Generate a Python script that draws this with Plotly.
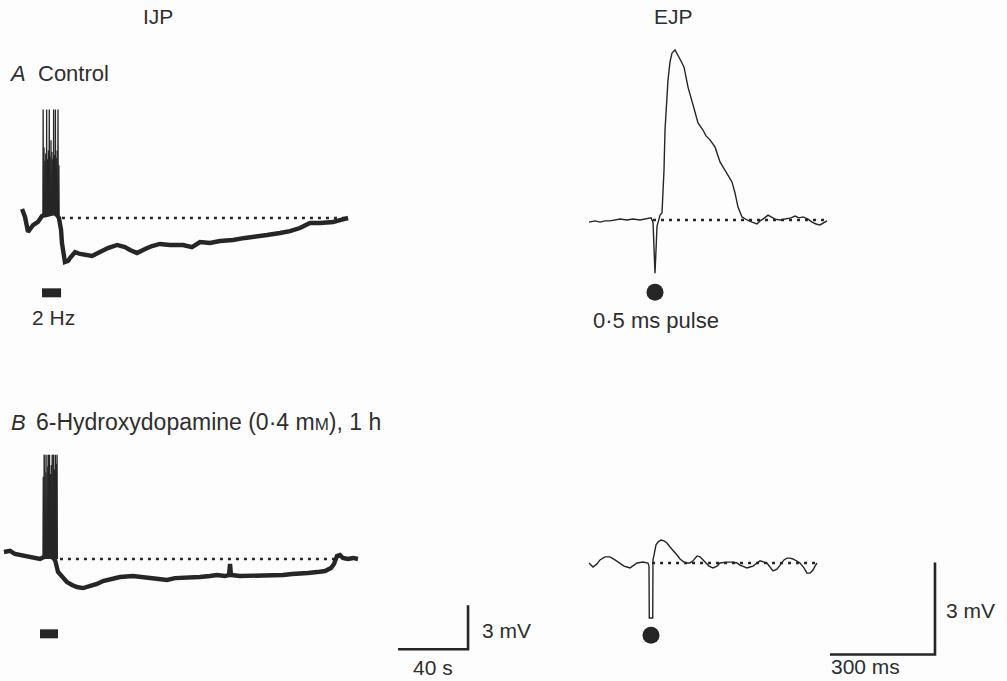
import plotly.graph_objects as go

W, H = 1007, 681
INK = "#262626"
TXT = "#2e2e2e"
FONT = "Liberation Sans, Arial, sans-serif"

# ---------------- IJP, A: control (time in s from stimulus onset, mV from rest)
ijp_a_t = [-11.4, -9.7, -8.0, -6.3, -5.1, -2.3, 0.0, 2.3, 4.6, 6.9, 8.6, 9.7, 10.9, 11.4, 13.1,
           14.9, 16.0, 18.9, 21.7, 24.6, 28.6, 33.1, 37.7, 42.9, 47.4, 50.3, 54.3, 58.9, 62.9,
           67.4, 73.1, 80.6, 85.7, 90.3, 96.0, 101.7, 109.1, 116.0, 121.7, 128.6, 136.0, 141.7,
           147.4, 153.1, 158.9, 166.3, 170.3, 174.9]
ijp_a_mv = [0.61, 0.07, -0.95, -0.61, -0.48, -0.27, 0.14, 0.20, 0.27, 0.34, 0.20, 0.0, -0.82, -1.70,
            -3.00, -2.93, -2.73, -2.32, -2.45, -2.52, -2.59, -2.32, -2.05, -1.84, -1.98, -2.18, -2.39,
            -2.11, -1.91, -1.77, -1.84, -1.84, -1.98, -1.64, -1.70, -1.57, -1.50, -1.36, -1.30, -1.16,
            -1.02, -0.89, -0.68, -0.34, -0.34, -0.27, -0.14, 0.0]
ijp_a_spike_t = [0.5, 1.0, 1.5, 2.0, 2.5, 3.0, 3.5, 4.0, 4.5, 5.0, 5.5, 6.0, 6.5, 7.0, 7.5, 8.0, 8.5, 9.0, 9.5]
ijp_a_spike_mv = [7.4, 4.8, 3.9, 4.4, 7.4, 4.0, 4.6, 7.4, 4.2, 5.3, 4.5, 4.0, 7.4, 4.3, 7.4, 4.1, 4.6, 7.4, 3.6]
ijp_a_spike_base = 0.2
ijp_a_stim = [0.0, 10.9]

# ---------------- IJP, B: 6-hydroxydopamine
ijp_b_t = [-20.6, -17.1, -14.3, -11.4, -8.6, -5.7, -2.9, 0.0, 2.3, 4.6, 6.9, 8.6, 10.3, 12.6, 15.4,
           18.3, 21.1, 24.6, 28.6, 32.6, 36.0, 40.0, 45.7, 53.1, 58.3, 62.9, 67.4, 72.6, 77.1, 81.7,
           86.9, 91.4, 97.1, 101.1, 105.7, 108.0, 108.6, 109.1, 114.3, 120.0, 124.6, 129.7, 134.3,
           138.9, 144.0, 148.6, 153.1, 158.3, 162.9, 166.3, 168.0, 169.7, 171.4, 173.1, 176.0,
           178.9, 181.7]
ijp_b_mv = [0.48, 0.55, 0.34, 0.27, 0.27, 0.14, 0.07, 0.0, 0.14, 0.20, 0.14, -0.07, -0.89, -1.23,
            -1.57, -1.77, -1.91, -1.98, -1.84, -1.70, -1.50, -1.36, -1.23, -1.16, -1.23, -1.30, -1.36,
            -1.43, -1.30, -1.30, -1.23, -1.23, -1.16, -1.09, -1.16, -1.09, -0.34, -1.09, -1.16, -1.16,
            -1.09, -1.09, -1.16, -1.09, -1.02, -0.95, -0.95, -0.89, -0.82, -0.61, -0.34, 0.20, 0.27,
            0.07, 0.0, 0.07, 0.0]
ijp_b_spike_t = [1.7, 2.2, 2.7, 3.2, 3.8, 4.3, 4.8, 5.3, 5.8, 6.3, 6.8, 7.3, 7.7, 8.2, 8.7, 9.2, 9.6]
ijp_b_spike_mv = [5.6, 7.1, 7.1, 5.9, 7.1, 6.3, 7.1, 7.1, 5.8, 6.4, 7.1, 7.1, 7.1, 6.1, 7.1, 6.5, 7.1]
ijp_b_spike_base = 0.0
ijp_b_stim = [0.0, 10.3]

# ---------------- EJP, A: control (time in ms from pulse, mV from rest)
ejp_a_t = [-188.6, -171.4, -157.1, -142.9, -128.6, -114.3, -100.0, -80.0, -62.9, -42.9, -22.9, -11.4,
           -5.7, -2.9, 0.0, 2.9, 5.7, 11.4, 14.3, 20.0, 25.7, 28.6, 37.1, 42.9, 48.6, 57.1, 65.7,
           74.3, 82.9, 94.3, 108.6, 122.9, 137.1, 145.7, 157.1, 171.4, 185.7, 197.1, 205.7, 220.0,
           228.6, 237.1, 248.6, 262.9, 277.1, 291.4, 300.0, 308.6, 322.9, 334.3, 342.9, 357.1,
           377.1, 388.6, 400.0, 411.4, 422.9, 437.1, 448.6, 460.0, 471.4, 482.9, 491.4]
ejp_a_mv = [-0.07, -0.03, -0.07, -0.03, -0.03, 0.0, 0.03, 0.0, 0.03, 0.0, 0.03, 0.07, -0.07, -0.81,
            -1.73, -0.98, -0.20, 0.03, 0.16, 0.23, 1.63, 2.93, 4.56, 5.15, 5.44, 5.54, 5.37, 5.18,
            4.98, 4.33, 3.75, 3.16, 2.93, 2.74, 2.61, 2.38, 1.89, 1.66, 1.53, 1.24, 0.88, 0.42, 0.10,
            0.0, -0.07, -0.13, -0.03, 0.03, 0.16, 0.07, 0.03, 0.0, 0.03, 0.07, 0.13, 0.07, 0.10,
            0.03, -0.07, -0.13, -0.16, -0.10, -0.03]

# ---------------- EJP, B: 6-hydroxydopamine
ejp_b_t = [-177.1, -171.4, -165.7, -154.3, -145.7, -131.4, -117.1, -102.9, -88.6, -77.1, -68.6, -60.0,
           -48.6, -40.0, -22.9, -8.6, -5.7, -4.9, 4.9, 5.7, 8.6, 14.3, 20.0, 28.6, 37.1, 45.7, 54.3,
           62.9, 74.3, 82.9, 94.3, 102.9, 111.4, 120.0, 125.7, 131.4, 140.0, 148.6, 154.3, 165.7,
           177.1, 188.6, 197.1, 217.1, 234.3, 245.7, 254.3, 265.7, 274.3, 282.9, 291.4, 302.9,
           311.4, 322.9, 331.4, 340.0, 348.6, 360.0, 368.6, 380.0, 388.6, 397.1, 405.7, 417.1,
           425.7, 437.1, 445.7, 454.3, 462.9, 468.6, 474.3]
ejp_b_mv = [0.0, -0.07, -0.13, -0.03, 0.10, 0.20, 0.20, 0.10, 0.0, -0.10, -0.13, -0.16, -0.07, 0.0,
            0.03, 0.0, -0.10, -1.79, -1.79, 0.10, 0.26, 0.59, 0.68, 0.75, 0.72, 0.65, 0.52, 0.42,
            0.26, 0.13, 0.03, 0.0, 0.0, 0.07, 0.16, 0.23, 0.20, 0.10, 0.0, -0.10, -0.16, -0.10, 0.0,
            0.03, 0.03, 0.0, -0.07, -0.13, -0.16, -0.13, -0.10, 0.0, 0.07, 0.03, 0.0, -0.13, -0.26,
            -0.20, -0.07, 0.10, 0.16, 0.16, 0.13, 0.07, 0.0, -0.16, -0.33, -0.33, -0.23, -0.10, 0.0]

# resting-potential reference (dotted) lines
ijp_a_rest_t = [11.4, 176.0]
ijp_b_rest_t = [11.4, 170.0]
ejp_a_rest_t = [-5.7, 491.0]
ejp_b_rest_t = [3.0, 477.0]
pulse_marker_mv = -2.35

# calibration bars
ijp_cal_s, ijp_cal_mv = 40, 3
ejp_cal_ms, ejp_cal_mv = 300, 3

# ------------------------------------------------------------------ layout helpers
def axes_for(box, origin, scale):
    px0, px1, py0, py1 = box
    ox, oy = origin
    sx, sy = scale
    xa = dict(domain=[px0 / W, px1 / W], range=[(px0 - ox) / sx, (px1 - ox) / sx], visible=False)
    ya = dict(domain=[1 - py1 / H, 1 - py0 / H], range=[(oy - py1) / sy, (oy - py0) / sy], visible=False)
    return xa, ya

IJP_SCALE = (1.75, 14.67)
EJP_SCALE = (0.35, 30.7)
xa1, ya1 = axes_for((0, 380, 90, 310), (42, 218), IJP_SCALE)
xa2, ya2 = axes_for((0, 560, 440, 681), (40, 559), IJP_SCALE)
xa3, ya3 = axes_for((560, 860, 30, 310), (655, 220), EJP_SCALE)
xa4, ya4 = axes_for((560, 1007, 500, 681), (651, 563), EJP_SCALE)

fig = go.Figure()

def line(x, y, ax, width, dash=None, color=INK):
    fig.add_trace(go.Scatter(x=x, y=y, mode="lines", xaxis="x" + ax, yaxis="y" + ax,
                             line=dict(color=color, width=width, dash=dash),
                             hoverinfo="skip", showlegend=False, connectgaps=False))

def spikes(ts, peaks, base):
    xs, ys = [], []
    for t, p in zip(ts, peaks):
        xs += [t, t + 0.15, t + 0.3, None]
        ys += [base, p, base, None]
    return xs, ys

DOT = "3px,5px"
STIM_Y = -5.1

# IJP A
line(ijp_a_t, ijp_a_mv, "", 4.4)
sx_, sy_ = spikes(ijp_a_spike_t, ijp_a_spike_mv, ijp_a_spike_base)
line(sx_, sy_, "", 1.3)
line(ijp_a_rest_t, [0, 0], "", 2.6, DOT)
line(ijp_a_stim, [STIM_Y, STIM_Y], "", 9)

# IJP B
line(ijp_b_t, ijp_b_mv, "2", 4.4)
sx_, sy_ = spikes(ijp_b_spike_t, ijp_b_spike_mv, ijp_b_spike_base)
line(sx_, sy_, "2", 1.3)
line(ijp_b_rest_t, [0, 0], "2", 2.6, DOT)
line(ijp_b_stim, [STIM_Y, STIM_Y], "2", 9)
# IJP calibration
cx, cy = 244.6, -6.15
line([cx - ijp_cal_s, cx, cx], [cy, cy, cy + ijp_cal_mv], "2", 2.6)

# EJP A
line(ejp_a_t, ejp_a_mv, "3", 1.4)
line(ejp_a_rest_t, [0, 0], "3", 2.6, DOT)
fig.add_trace(go.Scatter(x=[0], y=[pulse_marker_mv], mode="markers", xaxis="x3", yaxis="y3",
                         marker=dict(size=17, color=INK), hoverinfo="skip", showlegend=False))

# EJP B
line(ejp_b_t, ejp_b_mv, "4", 1.4)
line(ejp_b_rest_t, [0, 0], "4", 2.6, DOT)
fig.add_trace(go.Scatter(x=[0], y=[pulse_marker_mv], mode="markers", xaxis="x4", yaxis="y4",
                         marker=dict(size=17, color=INK), hoverinfo="skip", showlegend=False))
ex, ey = 811.4, -2.98
line([ex - ejp_cal_ms, ex, ex], [ey, ey, ey + ejp_cal_mv], "4", 2.6)

# ------------------------------------------------------------------ text
anns = []
def txt(s, x, y, size=22, xanchor="left"):
    anns.append(dict(text=s, x=x / W, y=1 - y / H, xref="paper", yref="paper",
                     xanchor=xanchor, yanchor="middle", showarrow=False,
                     font=dict(family=FONT, size=size, color=TXT)))

txt("IJP", 158, 17, 21, "center")
txt("EJP", 673, 17, 21, "center")
txt("<i>A</i>", 7, 74)
txt("Control", 36, 74)
txt("2 Hz", 53, 317, 21, "center")
txt("0·5 ms pulse", 591, 320)
txt("<i>B</i>", 9, 422)
txt("6-Hydroxydopamine (0·4 m<span style='font-size:17px'>M</span>), 1 h", 34, 422, 23)
txt("3 mV", 480, 630, 21)
txt("40 s", 411, 667, 21)
txt("3 mV", 944, 610, 21)
txt("300 ms", 829, 666, 21)

fig.update_layout(
    width=W, height=H, autosize=False,
    margin=dict(l=0, r=0, t=0, b=0),
    paper_bgcolor="#fdfdfd", plot_bgcolor="rgba(0,0,0,0)",
    xaxis=xa1, yaxis=ya1, xaxis2=xa2, yaxis2=ya2,
    xaxis3=xa3, yaxis3=ya3, xaxis4=xa4, yaxis4=ya4,
    annotations=anns, showlegend=False,
)

fig.write_html("out.html", config={"displayModeBar": False},
               post_script="document.body.style.margin='0';")
